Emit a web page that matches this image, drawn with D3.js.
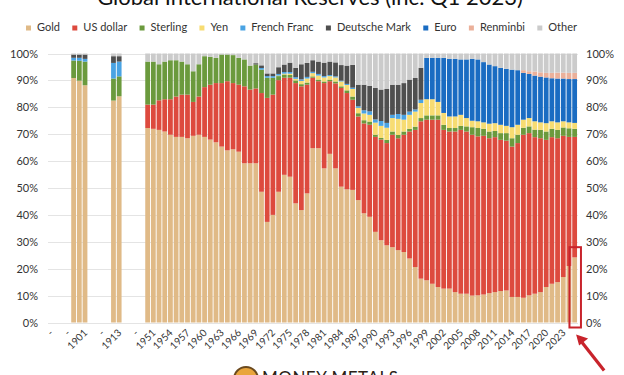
<!DOCTYPE html>
<html>
<head>
<meta charset="utf-8">
<script src="https://cdn.jsdelivr.net/npm/d3@7"></script>
<style>
  body { margin: 0; background: #fff; }
  text { font-family: Lato, "Noto Sans", sans-serif; }
</style>
</head>
<body>
<div id="svganchor"></div>
<script>
let width = 624, height = 375;

let margin = ({top: 53.5, right: 46, bottom: 52.5, left: 48});

// x categories, "-" are empty slots between the groups of bars
const categories = ["-", "-", "-", "-", "1899", "1900", "1901", "-", "-", "-", "-", "1912", "1913", "-", "-", "-", "-",
  "1950", "1951", "1952", "1953", "1954", "1955", "1956", "1957", "1958", "1959",
  "1960", "1961", "1962", "1963", "1964", "1965", "1966", "1967", "1968", "1969",
  "1970", "1971", "1972", "1973", "1974", "1975", "1976", "1977", "1978", "1979",
  "1980", "1981", "1982", "1983", "1984", "1985", "1986", "1987", "1988", "1989",
  "1990", "1991", "1992", "1993", "1994", "1995", "1996", "1997", "1998", "1999",
  "2000", "2001", "2002", "2003", "2004", "2005", "2006", "2007", "2008", "2009",
  "2010", "2011", "2012", "2013", "2014", "2015", "2016", "2017", "2018", "2019",
  "2020", "2021", "2022", "2023", "2024", "2025"];

// years that have a bar (same order as the series below)
const years = ["1899", "1900", "1901", "1912", "1913",
  "1950", "1951", "1952", "1953", "1954", "1955", "1956", "1957", "1958", "1959",
  "1960", "1961", "1962", "1963", "1964", "1965", "1966", "1967", "1968", "1969",
  "1970", "1971", "1972", "1973", "1974", "1975", "1976", "1977", "1978", "1979",
  "1980", "1981", "1982", "1983", "1984", "1985", "1986", "1987", "1988", "1989",
  "1990", "1991", "1992", "1993", "1994", "1995", "1996", "1997", "1998", "1999",
  "2000", "2001", "2002", "2003", "2004", "2005", "2006", "2007", "2008", "2009",
  "2010", "2011", "2012", "2013", "2014", "2015", "2016", "2017", "2018", "2019",
  "2020", "2021", "2022", "2023", "2024", "2025"];

// shares in %
const gold = [90.9, 89.9, 88.2, 82.5, 84.1,
  72.3, 72.0, 71.6, 71.0, 69.8, 69.0, 69.0, 68.5, 69.4, 69.8,
  69.0, 68.0, 67.0, 65.4, 64.0, 64.4, 63.5, 59.2, 59.2, 59.2,
  48.6, 37.4, 40.0, 48.6, 54.9, 54.2, 44.3, 41.8, 48.0, 64.8,
  64.8, 57.3, 62.7, 57.3, 50.5, 49.5, 49.3, 45.5, 40.6, 39.3,
  33.7, 30.6, 28.7, 28.0, 26.9, 26.2, 23.8, 20.6, 16.3, 15.7,
  14.4, 13.2, 12.6, 12.6, 11.3, 10.7, 10.7, 10.0, 10.1, 10.4,
  10.9, 11.3, 11.7, 11.9, 9.5, 9.5, 9.2, 10.1, 10.7, 11.3,
  13.2, 14.4, 15.0, 16.9, 21.0, 24.2];

const usDollar = [0, 0, 0, 0, 0,
  8.7, 9.0, 11.0, 12.0, 13.2, 15.0, 15.7, 16.2, 12.6, 14.2,
  18.5, 20.4, 22.0, 23.6, 25.7, 24.6, 24.9, 28.6, 27.4, 27.8,
  36.7, 46.1, 44.7, 41.5, 36.1, 36.8, 44.7, 46.0, 40.4, 26.2,
  24.9, 31.7, 27.0, 31.6, 36.7, 35.8, 33.5, 31.1, 33.4, 34.2,
  35.3, 37.4, 38.0, 41.8, 41.6, 43.6, 47.2, 51.0, 58.5, 59.7,
  61.0, 62.2, 59.0, 58.4, 59.7, 60.9, 60.3, 59.8, 59.1, 59.0,
  57.6, 57.6, 56.2, 55.7, 55.9, 57.2, 60.6, 60.3, 58.2, 57.2,
  54.7, 54.5, 53.5, 52.5, 48.0, 44.8];

const sterling = [6.5, 7.4, 8.8, 8.2, 7.4,
  16.0, 16.0, 13.4, 14.0, 14.5, 13.5, 12.3, 11.3, 11.4, 12.0,
  11.5, 10.4, 9.4, 10.6, 9.9, 10.4, 10.0, 10.0, 8.9, 8.9,
  8.7, 7.5, 6.3, 1.5, 1.2, 1.0, 1.0, 0.8, 0.8, 0.5,
  0.6, 0.6, 0.6, 0.7, 0.6, 1.0, 1.2, 1.2, 1.2, 1.2,
  0.8, 0.6, 1.2, 1.2, 1.2, 1.2, 1.0, 1.2, 1.2, 1.6,
  1.6, 1.6, 1.9, 1.3, 1.3, 1.5, 1.9, 2.8, 3.1, 2.6,
  2.5, 2.3, 2.5, 2.8, 3.1, 3.1, 2.6, 2.5, 2.8, 3.1,
  3.1, 3.1, 3.1, 3.1, 3.2, 3.0];

const yen = [0, 0, 0, 0, 0,
  0, 0, 0, 0, 0, 0, 0, 0, 0, 0,
  0, 0, 0, 0, 0, 0, 0, 0, 0, 0,
  0, 0, 0, 0.2, 0.3, 0.5, 0.6, 1.2, 1.5, 1.2,
  1.5, 1.5, 1.3, 1.5, 1.8, 2.0, 2.8, 2.0, 2.5, 2.5,
  4.5, 4.5, 4.5, 5.0, 6.0, 4.4, 5.2, 5.6, 5.6, 6.0,
  6.0, 5.0, 4.4, 4.3, 4.3, 4.1, 3.1, 2.4, 2.5, 2.4,
  2.9, 2.9, 3.1, 2.7, 4.1, 3.7, 3.0, 3.1, 3.1, 2.8,
  3.1, 2.8, 2.8, 2.3, 2.2, 2.2];

const frenchFranc = [1.0, 1.1, 1.0, 5.8, 5.5,
  0, 0, 0, 0, 0, 0, 0, 0, 0, 0,
  0, 0, 0, 0, 0, 0, 0, 0, 0, 0,
  0.6, 0.6, 0.6, 0.6, 0.6, 0.6, 0.6, 0.6, 0.6, 0.5,
  0.6, 0.5, 0.4, 0.4, 0.3, 0.4, 0.5, 0.6, 1.2, 1.3,
  1.2, 1.8, 1.8, 1.2, 1.8, 1.8, 1.2, 0.8, 1.2, 0,
  0, 0, 0, 0, 0, 0, 0, 0, 0, 0,
  0, 0, 0, 0, 0, 0, 0, 0, 0, 0,
  0, 0, 0, 0, 0, 0];

const deutscheMark = [1.2, 1.2, 1.6, 2.5, 2.0,
  0, 0, 0, 0, 0, 0, 0, 0, 0, 0,
  0, 0, 0, 0, 0, 0, 0, 0, 0, 0.5,
  1.0, 1.0, 1.0, 2.5, 2.8, 3.5, 3.5, 5.6, 5.2, 4.3,
  4.6, 5.0, 5.0, 5.2, 5.8, 6.8, 8.5, 8.0, 9.5, 9.5,
  11.7, 11.7, 12.6, 11.2, 10.9, 11.8, 11.9, 11.7, 11.9, 0,
  0, 0, 0, 0, 0, 0, 0, 0, 0, 0,
  0, 0, 0, 0, 0, 0, 0, 0, 0, 0,
  0, 0, 0, 0, 0, 0];

const euro = [0, 0, 0, 0, 0,
  0, 0, 0, 0, 0, 0, 0, 0, 0, 0,
  0, 0, 0, 0, 0, 0, 0, 0, 0, 0,
  0, 0, 0, 0, 0, 0, 0, 0, 0, 0,
  0, 0, 0, 0, 0, 0, 0, 0, 0, 0,
  0, 0, 0, 0, 0, 0, 0, 0, 0, 15.4,
  15.4, 16.4, 20.5, 21.4, 21.4, 20.6, 21.8, 23.0, 23.0, 22.4,
  22.0, 21.2, 21.2, 21.2, 21.4, 20.3, 17.4, 16.4, 17.0, 17.0,
  17.0, 16.0, 16.3, 15.9, 16.1, 16.3];

const renminbi = [0, 0, 0, 0, 0,
  0, 0, 0, 0, 0, 0, 0, 0, 0, 0,
  0, 0, 0, 0, 0, 0, 0, 0, 0, 0,
  0, 0, 0, 0, 0, 0, 0, 0, 0, 0,
  0, 0, 0, 0, 0, 0, 0, 0, 0, 0,
  0, 0, 0, 0, 0, 0, 0, 0, 0, 0,
  0, 0, 0, 0, 0, 0, 0, 0, 0, 0,
  0, 0, 0, 0, 0, 0, 1.0, 1.0, 1.5, 1.6,
  1.7, 2.0, 2.2, 2.2, 2.3, 2.3];

const other = [0.4, 0.4, 0.4, 1.0, 1.0,
  3.0, 3.0, 4.0, 3.0, 2.5, 2.5, 3.0, 4.0, 6.6, 4.0,
  1.0, 1.2, 1.6, 0.4, 0.4, 0.6, 1.6, 2.2, 4.5, 3.6,
  4.4, 7.4, 7.4, 5.1, 4.1, 3.4, 5.3, 4.0, 3.5, 2.5,
  3.0, 3.4, 3.0, 3.3, 4.3, 4.5, 4.2, 11.6, 11.6, 12.0,
  12.8, 13.4, 13.2, 11.6, 11.6, 11.0, 9.7, 9.1, 5.3, 1.6,
  1.6, 1.6, 1.6, 2.0, 2.0, 2.2, 2.2, 2.0, 2.2, 3.2,
  4.1, 4.7, 5.3, 5.7, 6.0, 6.2, 6.2, 6.6, 6.7, 7.0,
  7.2, 7.2, 7.1, 7.1, 7.2, 7.2];

const seriesNames = ["Gold", "US dollar", "Sterling", "Yen", "French Franc", "Deutsche Mark", "Euro", "Renminbi", "Other"];
const seriesValues = [gold, usDollar, sterling, yen, frenchFranc, deutscheMark, euro, renminbi, other];
const seriesColors = ["#e0ba87", "#dd4a3e", "#6b9a3d", "#f7dc72", "#4aa3e3", "#4f4f4f", "#1a6cc2", "#ebb09a", "#cbcbcb"];

const yTicks = [0, 10, 20, 30, 40, 50, 60, 70, 80, 90, 100];

// rows for d3.stack
let dataSet = years.map(function(y, i) {
    let row = {year: y};
    seriesNames.forEach(function(s, j) { row[s] = seriesValues[j][i]; });
    return row;
});

let xScale = d3.scaleBand()
    .domain(d3.range(categories.length))
    .range([margin.left, width - margin.right - 0.5])
    .paddingInner(0.16)
    .paddingOuter(0.08);

let yScale = d3.scaleLinear()
    .domain([0, 100])
    .range([height - margin.bottom, margin.top]);

let colors = d3.scaleOrdinal().domain(seriesNames).range(seriesColors);

let svg = d3.select("#svganchor")
    .append("svg")
    .attr("width", width)
    .attr("height", height);

svg.append("text")
    .attr("text-anchor", "middle")
    .attr("x", 310)
    .attr("y", 5)
    .attr("font-size", 22)
    .attr("fill", "#111")
    .text("Global International Reserves (inc. Q1 2023)");

// grid
svg.append("g")
    .selectAll("line")
    .data(yTicks)
    .enter()
    .append("line")
    .attr("x1", margin.left)
    .attr("x2", width - margin.right)
    .attr("y1", function(d) { return Math.round(yScale(d)) + 0.5; })
    .attr("y2", function(d) { return Math.round(yScale(d)) + 0.5; })
    .attr("stroke", "#e4e4e4")
    .attr("stroke-width", 1);

let yAxisL = d3.axisLeft(yScale)
    .tickValues(yTicks)
    .tickFormat(function(d) { return d + "%"; })
    .tickSize(0)
    .tickPadding(10);

let yAxisR = d3.axisRight(yScale)
    .tickValues(yTicks)
    .tickFormat(function(d) { return d + "%"; })
    .tickSize(0)
    .tickPadding(10);

let gY = svg.append("g")
    .attr("transform", "translate(" + margin.left + ",0)")
    .call(yAxisL);

let gY2 = svg.append("g")
    .attr("transform", "translate(" + (width - margin.right - 2) + ",0)")
    .call(yAxisR);

[gY, gY2].forEach(function(g) {
    g.select(".domain").remove();
    g.selectAll("text")
        .attr("font-family", "Lato, 'Noto Sans', sans-serif")
        .attr("font-size", 11)
        .attr("fill", "#333");
});

// stacked bars
let stack = d3.stack().keys(seriesNames);
let layers = stack(dataSet);

let catIndex = function(year) { return categories.indexOf(year); };

svg.append("g")
    .selectAll("g")
    .data(layers)
    .enter()
    .append("g")
    .attr("fill", function(d) { return colors(d.key); })
    .selectAll("rect")
    .data(function(d) { return d; })
    .enter()
    .append("rect")
    .attr("x", function(d) { return xScale(catIndex(d.data.year)); })
    .attr("width", xScale.bandwidth())
    .attr("y", function(d) { return yScale(d[1]); })
    .attr("height", function(d) { return Math.max(0, yScale(d[0]) - yScale(d[1])); });

// x labels, every third category
let xAxis = d3.axisBottom(xScale)
    .tickValues(d3.range(0, categories.length, 3))
    .tickFormat(function(i) { return categories[i]; })
    .tickSize(0)
    .tickPadding(0);

let gX = svg.append("g")
    .attr("transform", "translate(0," + (height - margin.bottom) + ")")
    .call(xAxis);

gX.select(".domain").remove();

gX.selectAll("text")
    .attr("font-family", "Lato, 'Noto Sans', sans-serif")
    .attr("font-size", 10)
    .attr("fill", "#333")
    .attr("text-anchor", "end")
    .attr("dy", null)
    .attr("y", null)
    .attr("transform", "translate(3,11) rotate(-45)");

// legend, spread between x = 26 and x = 577
let legend = svg.append("g").attr("transform", "translate(26,31)");
let items = seriesNames.map(function(name, i) {
    let item = legend.append("g");
    item.append("rect")
        .attr("x", 0)
        .attr("y", -5.5)
        .attr("width", 5)
        .attr("height", 5)
        .attr("fill", seriesColors[i]);
    let t = item.append("text")
        .attr("x", 11)
        .attr("y", 0)
        .attr("font-size", 11)
        .attr("fill", "#333")
        .text(name);
    return {g: item, w: 11 + t.node().getComputedTextLength()};
});
let gap = (551 - d3.sum(items, function(d) { return d.w; })) / (items.length - 1);
let lx = 0;
items.forEach(function(d) {
    d.g.attr("transform", "translate(" + lx + ",0)");
    lx += d.w + gap;
});

// highlight of the latest bars
let lastI = categories.length - 1;
let boxX = xScale(lastI - 1) + xScale.bandwidth() / 2 + 0.5;
svg.append("rect")
    .attr("x", boxX)
    .attr("y", yScale(28))
    .attr("width", xScale(lastI) + xScale.step() + 3 - boxX)
    .attr("height", yScale(0) - yScale(28) + 5)
    .attr("fill", "none")
    .attr("stroke", "#c8232b")
    .attr("stroke-width", 2);

let tipX = xScale(lastI) + xScale.step() / 2 + 1, tipY = yScale(0) + 12;
svg.append("line")
    .attr("x1", tipX + 28)
    .attr("y1", tipY + 36)
    .attr("x2", tipX + 6)
    .attr("y2", tipY + 8)
    .attr("stroke", "#c8232b")
    .attr("stroke-width", 3.2);

svg.append("path")
    .attr("d", "M" + tipX + "," + tipY + "l12,4l-9,7z")
    .attr("fill", "#c8232b");

// logo at the bottom, cut by the frame
svg.append("circle")
    .attr("cx", 246)
    .attr("cy", 379)
    .attr("r", 12)
    .attr("fill", "#e9a53c")
    .attr("stroke", "#6b4a1f")
    .attr("stroke-width", 2);

svg.append("text")
    .attr("x", 262)
    .attr("y", 384)
    .attr("font-family", "'Liberation Serif', serif")
    .attr("font-size", 17)
    .attr("letter-spacing", 0.5)
    .attr("fill", "#2b2216")
    .text("MONEY METALS");
</script>
</body>
</html>
